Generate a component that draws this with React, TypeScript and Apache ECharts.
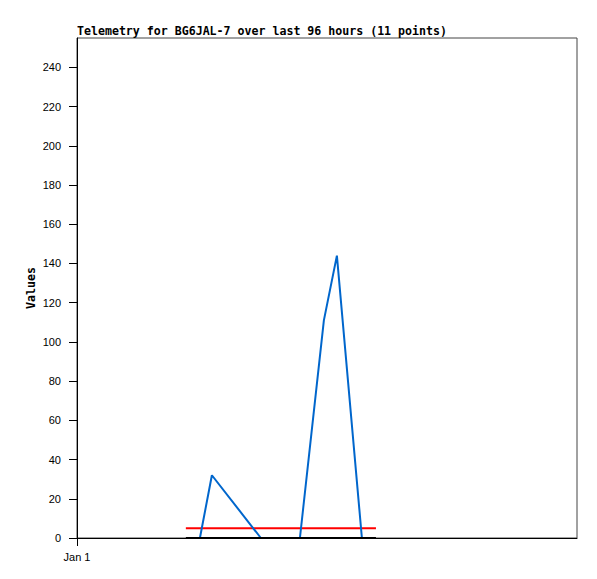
import React, { useEffect, useRef } from "react";
import * as echarts from "echarts";

const titleText = "Telemetry for BG6JAL-7 over last 96 hours (11 points)";
const yAxisName = "Values";
const xStartLabel = "Jan 1";
const yTicks = [0, 20, 40, 60, 80, 100, 120, 140, 160, 180, 200, 220, 240];

// hours since Jan 1 00:00
const blueHours = [23.6, 25.9, 35.3, 35.3, 42.8, 42.8, 47.4, 49.9, 54.7, 54.7, 54.7];
const blueValues = [0, 32, 0, 0, 0, 0, 111, 144, 0, 0, 0];
const refHours = [20.9, 57.4];
const redValues = [5, 5];
const blackValues = [0, 0];

export default function App() {
  const ref = useRef<HTMLDivElement>(null);
  useEffect(() => {
    if (!ref.current) return;
    const chart = echarts.init(ref.current, null, { renderer: "svg" });
    const labelFont = { fontFamily: "Liberation Sans", fontSize: 11, color: "#000" };
    chart.setOption({
      animation: false,
      backgroundColor: "#fff",
      title: {
        text: titleText,
        left: 77,
        top: 25,
        padding: 0,
        textStyle: { fontFamily: "DejaVu Sans Mono", fontWeight: "bold", fontSize: 11.6, color: "#000" },
      },
      grid: {
        left: 77,
        right: 20,
        top: 38,
        bottom: 41,
        show: true,
        borderColor: "#444",
        borderWidth: 1,
        backgroundColor: "#fff",
      },
      xAxis: {
        type: "value",
        min: 0,
        max: 96,
        interval: 96,
        axisLine: { show: true, onZero: false, lineStyle: { color: "#000", width: 1 } },
        axisTick: { show: true, length: 8, inside: false, customValues: [0], lineStyle: { color: "#000" } },
        axisLabel: {
          ...labelFont,
          margin: 13,
          customValues: [0],
          formatter: (v: number) => (v === 0 ? xStartLabel : ""),
        },
        splitLine: { show: false },
      },
      yAxis: {
        type: "value",
        min: 0,
        max: 255,
        name: yAxisName,
        nameLocation: "middle",
        nameGap: 40,
        nameRotate: 90,
        nameMoveOverlap: false,
        nameTextStyle: { fontFamily: "DejaVu Sans Mono", fontWeight: "bold", fontSize: 11.6, color: "#000" },
        axisLine: { show: true, lineStyle: { color: "#000", width: 1 } },
        axisTick: { show: true, length: 8, inside: false, customValues: yTicks, lineStyle: { color: "#000" } },
        axisLabel: { ...labelFont, margin: 16, customValues: yTicks },
        splitLine: { show: false },
      },
      series: [
        {
          type: "line",
          data: refHours.map((h, i) => [h, redValues[i]]),
          showSymbol: false,
          lineStyle: { color: "#ff0000", width: 2 },
          z: 3,
        },
        {
          type: "line",
          data: blueHours.map((h, i) => [h, blueValues[i]]),
          showSymbol: false,
          lineStyle: { color: "#0066cc", width: 2 },
          z: 4,
        },
        {
          type: "line",
          data: refHours.map((h, i) => [h, blackValues[i]]),
          showSymbol: false,
          lineStyle: { color: "#000", width: 2 },
          z: 5,
        },
      ],
    });
    return () => chart.dispose();
  }, []);
  return <div ref={ref} style={{ width: 597, height: 579, position: "absolute", left: 0, top: 0 }} />;
}
